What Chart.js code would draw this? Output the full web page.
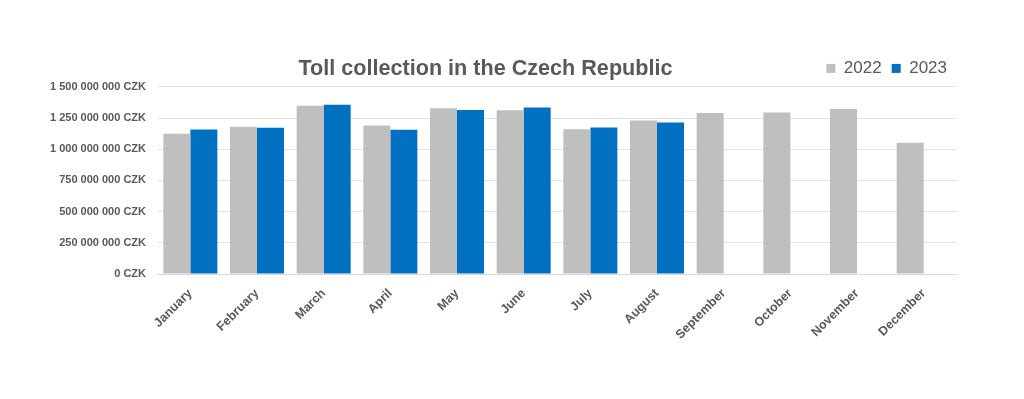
<!DOCTYPE html>
<html>
<head>
<meta charset="utf-8">
<script src="https://cdn.jsdelivr.net/npm/chart.js@4"></script>
<style>
  html, body { margin: 0; padding: 0; background: #fff; }
  #wrap { width: 1024px; height: 399px; position: relative; }
</style>
</head>
<body>
<div id="wrap"><canvas id="toll"></canvas></div>
<script>
// months and monthly toll revenue (CZK)
const MONTHS = ['January', 'February', 'March', 'April', 'May', 'June',
  'July', 'August', 'September', 'October', 'November', 'December'];
const TOLL_2022 = [1124e6, 1180e6, 1350e6, 1190e6, 1328e6, 1312e6,
  1160e6, 1230e6, 1291e6, 1294e6, 1323e6, 1052e6];
const TOLL_2023 = [1158e6, 1172e6, 1358e6, 1156e6, 1315e6, 1334e6,
  1174e6, 1214e6, null, null, null, null];
const Y_MAX  = 1500e6;
const Y_STEP = 250e6;

const TXT  = '#595959';
const GRID = '#e3e3e3';

const fmtCZK = v => String(Math.round(v)).replace(/\B(?=(\d{3})+(?!\d))/g, ' ') + ' CZK';

new Chart(document.getElementById('toll'), {
  type: 'bar',
  data: {
    labels: MONTHS,
    datasets: [
      { label: '2022', data: TOLL_2022, backgroundColor: '#bfbfbf' },
      { label: '2023', data: TOLL_2023, backgroundColor: '#0070c0' },
    ],
  },
  options: {
    responsive: true,
    maintainAspectRatio: false,
    animation: false,
    datasets: { bar: { categoryPercentage: 0.81, barPercentage: 1 } },
    layout: { padding: { left: 14, right: 67, top: 0, bottom: 0 } },
    plugins: {
      title: {
        display: true,
        text: 'Toll collection in the Czech Republic',
        color: TXT,
        font: { family: 'Liberation Sans, Arial', size: 21.6, weight: 'bold' },
        padding: { top: 56, bottom: -32 },
      },
      legend: {
        position: 'top',
        align: 'end',
        labels: {
          color: TXT,
          font: { family: 'Liberation Sans, Arial', size: 17 },
          boxWidth: 9, boxHeight: 9, padding: 10,
        },
      },
      tooltip: { enabled: false },
    },
    scales: {
      x: {
        grid: { display: false },
        border: { color: '#d9d9d9' },
        ticks: {
          color: TXT, minRotation: 45, maxRotation: 45, padding: 4,
          font: { family: 'Liberation Sans, Arial', size: 12.5, weight: 'bold' },
        },
        afterFit: s => { s.height = 125; },
      },
      y: {
        min: 0, max: Y_MAX,
        grid: { color: GRID, drawTicks: false },
        border: { display: false },
        ticks: {
          stepSize: Y_STEP, padding: 11, color: TXT,
          font: { family: 'Liberation Sans, Arial', size: 11, weight: 'bold' },
          callback: v => fmtCZK(v),
        },
        afterFit: s => { s.width = 143; },
      },
    },
  },
});
</script>
</body>
</html>
